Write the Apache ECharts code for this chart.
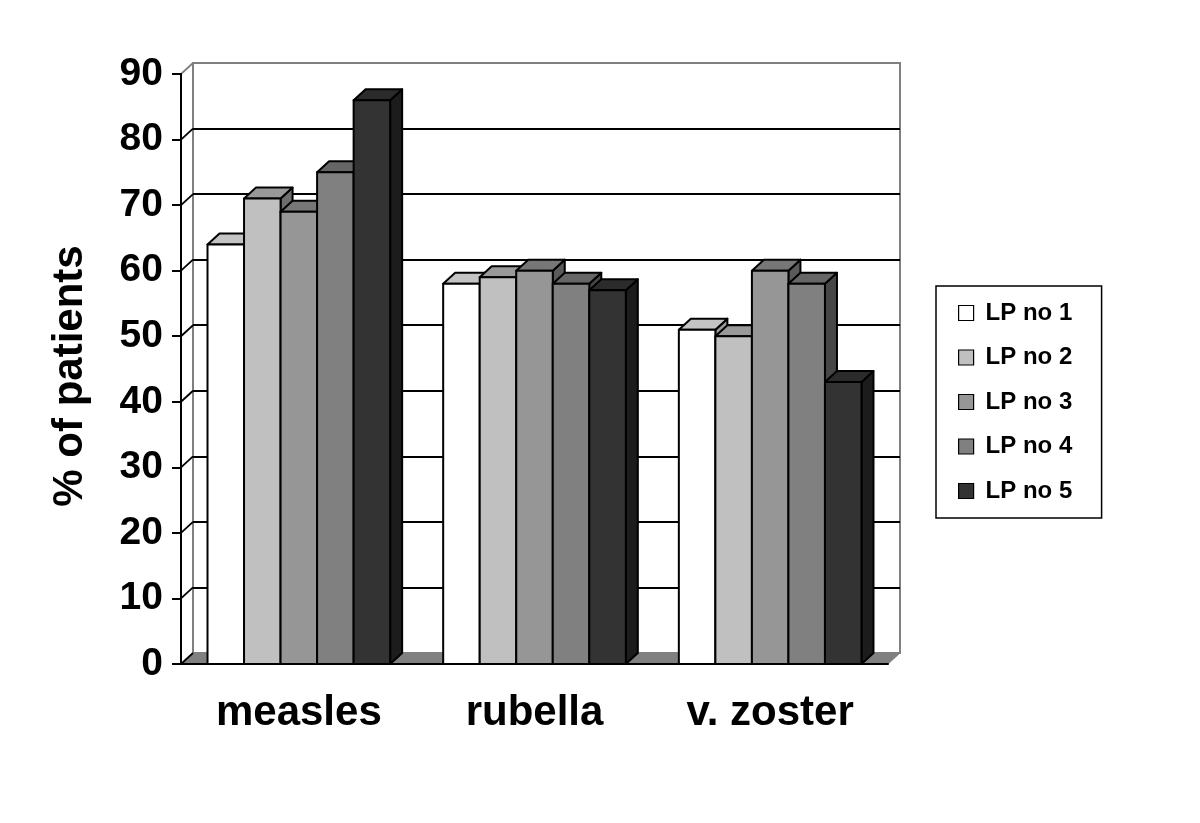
<!DOCTYPE html>
<html>
<head>
<meta charset="utf-8">
<title>% of patients</title>
<script src="https://cdn.jsdelivr.net/npm/echarts@6/dist/echarts.min.js"></script>
<style>
  html, body { margin: 0; padding: 0; background: #fff; }
  #main { width: 1200px; height: 823px; }
</style>
</head>
<body>
<div id="main"></div>
<script>
// data
const categories = ['measles', 'rubella', 'v. zoster'];
const seriesNames = ['LP no 1', 'LP no 2', 'LP no 3', 'LP no 4', 'LP no 5'];
const lp1 = [64, 58, 51];
const lp2 = [71, 59, 50];
const lp3 = [69, 60, 60];
const lp4 = [75, 58, 58];
const lp5 = [86, 57, 43];
const yTicks = [0, 10, 20, 30, 40, 50, 60, 70, 80, 90];

const allValues = [lp1, lp2, lp3, lp4, lp5];
const frontColors = ['#ffffff', '#c0c0c0', '#969696', '#808080', '#333333'];
const topColors = ['#c4c4c4', '#999999', '#777777', '#666666', '#2b2b2b'];
const sideColors = ['#999999', '#6e6e6e', '#5a5a5a', '#474747', '#1c1c1c'];

// 3d depth offset (pixels)
const DX = 12;
const DY = -11;
const FONT = 'Liberation Sans, Arial, sans-serif';

function barRenderer(s) {
  return function (params, api) {
    const cat = api.value(0);
    const v = api.value(1);
    const top = api.coord([cat, v]);
    const base = api.coord([cat, 0]);
    const bw = api.size([1, 0])[0] * 0.155;
    const x0 = top[0] - 2.5 * bw + s * bw;
    const x1 = x0 + bw;
    const y0 = top[1];
    const y1 = base[1];
    const line = { stroke: '#000', lineWidth: 2, lineJoin: 'round' };
    return {
      type: 'group',
      children: [
        {
          type: 'polygon',
          shape: { points: [[x1, y0], [x1 + DX, y0 + DY], [x1 + DX, y1 + DY], [x1, y1]] },
          style: Object.assign({ fill: sideColors[s] }, line)
        },
        {
          type: 'polygon',
          shape: { points: [[x0, y0], [x0 + DX, y0 + DY], [x1 + DX, y0 + DY], [x1, y0]] },
          style: Object.assign({ fill: topColors[s] }, line)
        },
        {
          type: 'rect',
          shape: { x: x0, y: y0, width: bw, height: y1 - y0 },
          style: Object.assign({ fill: frontColors[s] }, line)
        }
      ]
    };
  };
}

const barSeries = seriesNames.map((name, s) => ({
  name: name,
  type: 'custom',
  xAxisIndex: 0,
  yAxisIndex: 0,
  z: 10,
  itemStyle: { color: frontColors[s] },
  data: allValues[s].map((v, i) => [i, v]),
  renderItem: barRenderer(s)
}));

// floor of the 3d box
const floorSeries = {
  type: 'custom',
  xAxisIndex: 0,
  yAxisIndex: 0,
  z: 1,
  silent: true,
  data: [[0, 0]],
  renderItem: function (params, api) {
    const cs = params.coordSys;
    const yb = api.coord([0, 0])[1];
    const xl = cs.x;
    const xr = cs.x + cs.width;
    return {
      type: 'polygon',
      shape: { points: [[xl, yb], [xl + DX, yb + DY], [xr + DX, yb + DY], [xr, yb]] },
      style: { fill: '#808080', stroke: '#808080', lineWidth: 1 }
    };
  }
};

// small slanted lines from the front axis ticks to the back wall
const connectorSeries = {
  type: 'custom',
  xAxisIndex: 0,
  yAxisIndex: 0,
  z: 3,
  silent: true,
  data: yTicks.map(v => [0, v]),
  renderItem: function (params, api) {
    const v = api.value(1);
    const y = api.coord([0, v])[1];
    const x = params.coordSys.x;
    return {
      type: 'line',
      shape: { x1: x, y1: y, x2: x + DX, y2: y + DY },
      style: { stroke: v === 90 ? '#808080' : '#000', lineWidth: 1.8 }
    };
  }
};

const wallLineColors = ['#808080', '#000', '#000', '#000', '#000', '#000', '#000', '#000', '#000', '#808080'];

const option = {
  animation: false,
  backgroundColor: '#fff',
  textStyle: { fontFamily: FONT },
  grid: [
    { left: 181, top: 74, width: 707, height: 590 },
    {
      left: 181 + DX, top: 74 + DY, width: 707, height: 590,
      show: true, borderColor: '#808080', borderWidth: 2, backgroundColor: 'transparent'
    }
  ],
  legend: {
    data: seriesNames,
    orient: 'vertical',
    left: 936,
    top: 286,
    padding: [14, 18, 14, 22],
    itemGap: 18.5,
    itemWidth: 15,
    itemHeight: 15,
    icon: 'rect',
    borderColor: '#000',
    borderWidth: 1.5,
    itemStyle: { borderColor: '#000', borderWidth: 1.2 },
    textStyle: {
      fontFamily: FONT,
      fontWeight: 'bold',
      fontSize: 24,
      lineHeight: 26,
      color: '#000',
      width: 98,
      padding: [0, 0, 0, 7]
    }
  },
  xAxis: [
    {
      type: 'category',
      gridIndex: 0,
      data: categories,
      z: 5,
      axisLine: { lineStyle: { color: '#000', width: 2 } },
      axisTick: { length: 8, lineStyle: { color: '#000', width: 2 } },
      axisLabel: {
        margin: 28,
        color: '#000',
        fontFamily: FONT,
        fontWeight: 'bold',
        fontSize: 42
      }
    },
    {
      type: 'category',
      gridIndex: 1,
      data: categories,
      show: false
    }
  ],
  yAxis: [
    {
      type: 'value',
      gridIndex: 0,
      min: 0,
      max: 90,
      interval: 10,
      z: 5,
      name: '% of patients',
      nameLocation: 'middle',
      nameGap: 90,
      nameRotate: 90,
      nameTextStyle: {
        color: '#000',
        fontFamily: FONT,
        fontWeight: 'bold',
        fontSize: 42,
        padding: [0, 14, 0, 0]
      },
      axisLine: { show: true, lineStyle: { color: '#000', width: 2 } },
      axisTick: { show: true, length: 9, lineStyle: { color: '#000', width: 2 } },
      splitLine: { show: false },
      axisLabel: {
        margin: 18,
        color: '#000',
        fontFamily: FONT,
        fontWeight: 'bold',
        fontSize: 39
      }
    },
    {
      type: 'value',
      gridIndex: 1,
      min: 0,
      max: 90,
      interval: 10,
      axisLine: { show: false },
      axisTick: { show: false },
      axisLabel: { show: false },
      splitLine: { show: true, lineStyle: { color: wallLineColors, width: 1.8 } }
    }
  ],
  series: [floorSeries, connectorSeries].concat(barSeries)
};

const chart = echarts.init(document.getElementById('main'), null, { renderer: 'canvas' });
chart.setOption(option);
</script>
</body>
</html>
